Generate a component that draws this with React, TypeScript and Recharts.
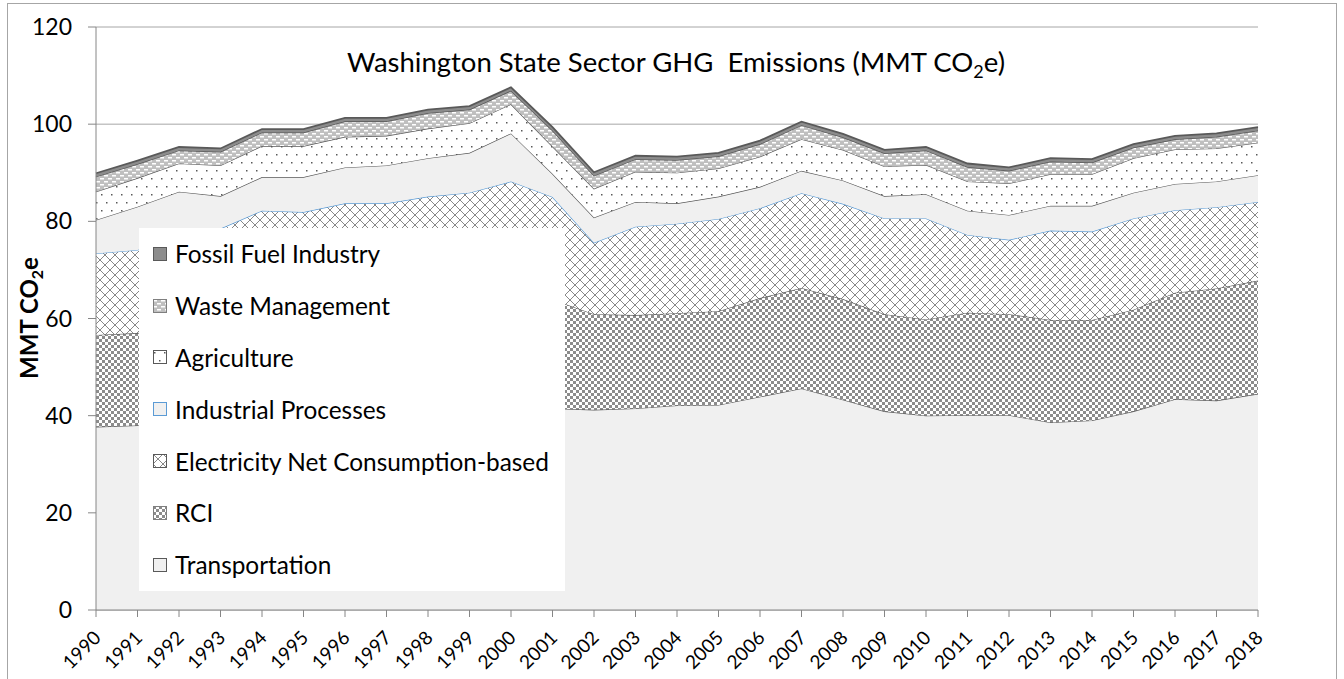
import React from "react"
import { AreaChart, Area, XAxis, YAxis, CartesianGrid, Legend } from "recharts"

const years = [
  "1990", "1991", "1992", "1993", "1994", "1995", "1996", "1997", "1998", "1999",
  "2000", "2001", "2002", "2003", "2004", "2005", "2006", "2007", "2008", "2009",
  "2010", "2011", "2012", "2013", "2014", "2015", "2016", "2017", "2018",
]

const transportation = [
  37.7, 38.0, 39.0, 39.5, 40.5, 41.0, 41.5, 42.0, 42.5, 43.0,
  43.5, 41.5, 41.2, 41.5, 42.1, 42.2, 43.9, 45.6, 43.3, 40.9,
  40.0, 40.1, 40.1, 38.6, 39.0, 40.9, 43.4, 43.1, 44.5,
]
const rci = [
  18.9, 19.0, 19.5, 19.0, 19.5, 19.5, 20.5, 20.5, 20.5, 20.5,
  22.0, 22.4, 19.7, 19.2, 19.0, 19.3, 20.3, 20.7, 20.7, 20.0,
  19.8, 21.1, 20.8, 21.1, 20.7, 20.9, 21.9, 23.1, 23.3,
]
const electricity = [
  16.8, 17.1, 18.5, 20.0, 22.2, 21.4, 21.7, 21.2, 22.1, 22.4,
  22.7, 21.1, 14.7, 18.2, 18.4, 19.0, 18.5, 19.5, 19.6, 19.7,
  20.8, 16.0, 15.3, 18.4, 18.2, 18.8, 17.0, 16.7, 16.2,
]
const industrial = [
  6.9, 8.9, 9.1, 6.7, 6.9, 7.2, 7.4, 7.8, 7.9, 8.2,
  9.9, 4.8, 5.2, 5.1, 4.2, 4.6, 4.4, 4.6, 4.8, 4.6,
  5.0, 5.0, 5.1, 5.1, 5.3, 5.3, 5.4, 5.3, 5.5,
]
const agriculture = [
  5.8, 5.9, 5.8, 6.3, 6.4, 6.4, 6.3, 6.1, 6.1, 6.1,
  6.0, 5.6, 5.9, 6.2, 6.3, 5.8, 6.2, 6.5, 6.3, 6.1,
  6.0, 6.0, 6.5, 6.5, 6.5, 7.1, 7.1, 6.8, 6.7,
]
const waste = [
  3.1, 2.9, 2.7, 2.8, 2.8, 2.8, 3.2, 3.0, 3.2, 2.8,
  2.8, 3.3, 2.7, 2.6, 2.6, 2.5, 2.6, 2.9, 2.6, 2.7,
  3.0, 3.0, 2.6, 2.6, 2.4, 2.2, 2.1, 2.4, 2.5,
]
const fossil = [
  0.7, 0.7, 0.7, 0.7, 0.7, 0.7, 0.7, 0.7, 0.7, 0.7,
  0.7, 0.7, 0.7, 0.7, 0.7, 0.7, 0.7, 0.7, 0.7, 0.7,
  0.7, 0.7, 0.7, 0.7, 0.7, 0.7, 0.7, 0.7, 0.7,
]

const yTicks = [0, 20, 40, 60, 80, 100, 120]

// bottom to top stacking order
const series = [
  { key: "Transportation", values: transportation, fill: "#f0f0f0", stroke: "#595959", width: 1.2 },
  { key: "RCI", values: rci, fill: "url(#pat-checker)", stroke: "#595959", width: 1.2 },
  { key: "Electricity Net Consumption-based", values: electricity, fill: "url(#pat-diamond)", stroke: "#5b9bd5", width: 1.2 },
  { key: "Industrial Processes", values: industrial, fill: "#f0f0f0", stroke: "#595959", width: 1.2 },
  { key: "Agriculture", values: agriculture, fill: "url(#pat-dots)", stroke: "#595959", width: 1.2 },
  { key: "Waste Management", values: waste, fill: "url(#pat-dash)", stroke: "#595959", width: 1.5 },
  { key: "Fossil Fuel Industry", values: fossil, fill: "#8c8c8c", stroke: "#595959", width: 1.8 },
]

// legend swatch borders (Excel shows the border of each series' swatch)
const swatchBorder: Record<string, string> = {
  "Fossil Fuel Industry": "#595959",
  "Waste Management": "#7f7f7f",
  "Agriculture": "#595959",
  "Industrial Processes": "#5b9bd5",
  "Electricity Net Consumption-based": "#595959",
  "RCI": "#7f7f7f",
  "Transportation": "#595959",
}

const data = years.map((year, i) => {
  const row: any = { year }
  series.forEach((s) => {
    row[s.key] = s.values[i]
  })
  return row
})

const FONT = "Lato, 'Open Sans', sans-serif"

const YearTick = ({ x, y, payload }: any) => {
  const ax = x + 6
  const ay = y + 20
  return (
    <text
      x={ax}
      y={ay}
      transform={`rotate(-45, ${ax}, ${ay})`}
      textAnchor="end"
      fontSize={19}
      fontFamily={FONT}
      fill="#000"
    >
      {payload.value}
    </text>
  )
}

const LegendBox = () => {
  const items = [...series].reverse()
  return (
    <div style={{ width: 426, height: 363, background: "#fff", fontFamily: FONT }}>
      {items.map((s) => (
        <div
          key={s.key}
          style={{ height: 51.8, display: "flex", alignItems: "center", paddingLeft: 14 }}
        >
          <svg width={14} height={14} style={{ marginRight: 8, flex: "none" }}>
            <rect x={0.5} y={0.5} width={13} height={13} fill={s.fill} stroke={swatchBorder[s.key]} strokeWidth={1} />
          </svg>
          <span style={{ fontSize: 24.4, color: "#000", whiteSpace: "nowrap" }}>{s.key}</span>
        </div>
      ))}
    </div>
  )
}

export default function App() {
  return (
    <div style={{ position: "absolute", left: 0, top: 0, width: 1344, height: 679, background: "#fff", overflow: "hidden" }}>
      <div
        style={{
          position: "absolute", left: 7, top: 3, width: 1328, height: 676,
          borderLeft: "1px solid #a6a6a6", borderTop: "1px solid #a6a6a6", borderRight: "1px solid #a6a6a6",
        }}
      />
      <AreaChart width={1344} height={679} data={data} margin={{ top: 27, right: 86, bottom: 0, left: 36 }}>
        <defs>
          <pattern id="pat-checker" patternUnits="userSpaceOnUse" width={6} height={6}>
            <rect width={6} height={6} fill="#ffffff" />
            <rect x={0} y={0} width={3} height={3} fill="#8c8c8c" />
            <rect x={3} y={3} width={3} height={3} fill="#8c8c8c" />
          </pattern>
          <pattern id="pat-diamond" patternUnits="userSpaceOnUse" width={10} height={10}>
            <rect width={10} height={10} fill="#ffffff" />
            <path d="M0,0 L10,10 M10,0 L0,10" stroke="#7a7a7a" strokeWidth={0.9} />
          </pattern>
          <pattern id="pat-dots" patternUnits="userSpaceOnUse" width={10} height={16}>
            <rect width={10} height={16} fill="#ffffff" />
            <rect x={1} y={2} width={1.5} height={1.5} fill="#595959" />
            <rect x={6} y={10} width={1.5} height={1.5} fill="#595959" />
          </pattern>
          <pattern id="pat-dash" patternUnits="userSpaceOnUse" width={8} height={6}>
            <rect width={8} height={6} fill="#bfbfbf" />
            <rect x={0} y={1} width={4} height={1.5} fill="#ffffff" />
            <rect x={4} y={4} width={4} height={1.5} fill="#ffffff" />
          </pattern>
        </defs>
        <CartesianGrid vertical={false} stroke="#a6a6a6" />
        <XAxis
          dataKey="year"
          height={69}
          interval={0}
          tick={<YearTick />}
          tickSize={7}
          axisLine={{ stroke: "#868686" }}
          tickLine={{ stroke: "#868686" }}
        />
        <YAxis
          width={60}
          domain={[0, 120]}
          ticks={yTicks}
          tickSize={8}
          tickMargin={16}
          axisLine={{ stroke: "#868686" }}
          tickLine={{ stroke: "#868686" }}
          tick={{ fontSize: 23, fontFamily: FONT, fill: "#000" }}
        />
        {series.map((s) => (
          <Area
            key={s.key}
            type="linear"
            dataKey={s.key}
            stackId="ghg"
            fill={s.fill}
            fillOpacity={1}
            stroke={s.stroke}
            strokeWidth={s.width}
            dot={false}
            activeDot={false}
            isAnimationActive={false}
          />
        ))}
        <Legend
          layout="vertical"
          align="center"
          verticalAlign="middle"
          content={<LegendBox />}
          wrapperStyle={{ left: 139, top: 228, width: 426, height: 363 }}
        />
        <text x={676} y={72} textAnchor="middle" fontSize={27.5} fontFamily={FONT} fill="#000" style={{ whiteSpace: "pre" }}>
          Washington State Sector GHG  Emissions (MMT CO
          <tspan fontSize={18} dy={6}>2</tspan>
          <tspan dy={-6}>e)</tspan>
        </text>
        <text
          x={38}
          y={318}
          transform="rotate(-90, 38, 318)"
          textAnchor="middle"
          fontSize={24}
          fontWeight="bold"
          fontFamily={FONT}
          fill="#000"
        >
          MMT CO<tspan fontSize={16} dy={5}>2</tspan><tspan dy={-5}>e</tspan>
        </text>
      </AreaChart>
    </div>
  )
}
